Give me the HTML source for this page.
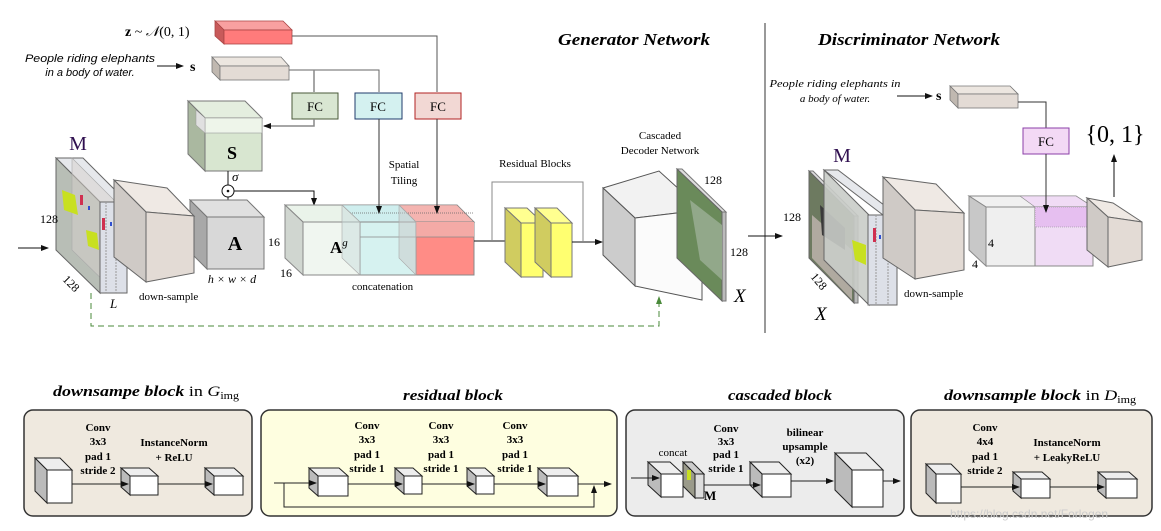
<!DOCTYPE html>
<html><head><meta charset="utf-8"><style>
html,body{margin:0;padding:0;background:#fff;}
svg{display:block;font-family:"Liberation Serif",serif;}
.b{font-weight:bold}
</style></head><body>
<svg width="1161" height="531" viewBox="0 0 1161 531" xmlns="http://www.w3.org/2000/svg">
<defs>
<marker id="ar" markerWidth="8" markerHeight="8" refX="7" refY="4" orient="auto" markerUnits="userSpaceOnUse"><path d="M0,1 L8,4 L0,7 z" fill="#111"/></marker>
<marker id="ag" markerWidth="8" markerHeight="8" refX="7" refY="4" orient="auto" markerUnits="userSpaceOnUse"><path d="M0,1 L8,4 L0,7 z" fill="#4a8a3a"/></marker>
</defs>

<text x="558" y="45" font-size="17" font-style="italic" class="b" textLength="152" lengthAdjust="spacingAndGlyphs">Generator Network</text>
<text x="818" y="45" font-size="17" font-style="italic" class="b" textLength="182" lengthAdjust="spacingAndGlyphs">Discriminator Network</text>
<line x1="765" y1="23" x2="765" y2="333" stroke="#333" stroke-width="1"/>

<text x="125" y="36" font-size="14"><tspan class="b">z</tspan> ~ <tspan font-style="italic">𝒩</tspan>(0, 1)</text>
<polygon points="215,21 283,21 292,30 224,30" fill="#f8a0a0" stroke="#a44" stroke-width="0.8"/>
<polygon points="215,21 224,30 224,44 215,36" fill="#c85a5a" stroke="#a44" stroke-width="0.8"/>
<rect x="224" y="30" width="68" height="14" fill="#ff7b7b" stroke="#a44" stroke-width="0.8"/>
<polyline points="292,36 437,36 437,92" fill="none" stroke="#555" stroke-width="1"/>

<text x="90" y="62" font-family="Liberation Sans,sans-serif" font-size="11" font-style="italic" text-anchor="middle" textLength="130" lengthAdjust="spacingAndGlyphs">People riding elephants</text>
<text x="90" y="76" font-family="Liberation Sans,sans-serif" font-size="11" font-style="italic" text-anchor="middle">in a body of water.</text>
<line x1="157" y1="66" x2="183" y2="66" stroke="#111" marker-end="url(#ar)"/>
<text x="190" y="71" font-size="14" class="b">s</text>
<polygon points="212,57 281,57 289,66 220,66" fill="#ece6e0" stroke="#777" stroke-width="0.8"/>
<polygon points="212,57 220,66 220,80 212,72" fill="#c0b8b0" stroke="#777" stroke-width="0.8"/>
<rect x="220" y="66" width="69" height="14" fill="#e3dbd5" stroke="#777" stroke-width="0.8"/>
<polyline points="289,70 379,70 379,92" fill="none" stroke="#666" stroke-width="1"/>
<line x1="314" y1="70" x2="314" y2="92" stroke="#888" stroke-width="1.5"/>

<rect x="292" y="93" width="46" height="26" fill="#d9e6d2" stroke="#4a5a3a"/>
<text x="315" y="111" font-size="13" text-anchor="middle">FC</text>
<rect x="355" y="93" width="47" height="26" fill="#d4f1f0" stroke="#1f3b6b"/>
<text x="378" y="111" font-size="13" text-anchor="middle">FC</text>
<rect x="415" y="93" width="46" height="26" fill="#f2d8d4" stroke="#b22222"/>
<text x="438" y="111" font-size="13" text-anchor="middle">FC</text>
<polyline points="314,119 314,126 264,126" fill="none" stroke="#888" stroke-width="1.5" marker-end="url(#ar)"/>

<polygon points="188,101 245,101 262,118 205,118" fill="#e4eedf" stroke="#777"/>
<polygon points="188,101 205,118 205,171 188,154" fill="#aab8a0" stroke="#777"/>
<rect x="205" y="118" width="57" height="53" fill="#d8e6d0" stroke="#777"/>
<rect x="205" y="118" width="57" height="15" fill="#eef5ea" stroke="#999" stroke-width="0.6"/>
<polygon points="196,110 205,118 205,133 196,125" fill="#e0e0e0" stroke="#999" stroke-width="0.5"/>
<text x="232" y="159" font-size="18" text-anchor="middle" class="b">S</text>
<text x="232" y="181" font-size="13" font-style="italic">σ</text>
<line x1="228" y1="171" x2="228" y2="185" stroke="#111"/>
<circle cx="228" cy="191" r="6" fill="#fff" stroke="#111"/>
<circle cx="228" cy="191" r="1.3" fill="#111"/>
<line x1="228" y1="197" x2="228" y2="217" stroke="#111"/>
<polyline points="234,191 314,191 314,205" fill="none" stroke="#111" marker-end="url(#ar)"/>

<polygon points="190,200 247,200 264,217 207,217" fill="#e0e0e0" stroke="#777"/>
<polygon points="190,200 207,217 207,269 190,252" fill="#a8a8a8" stroke="#777"/>
<rect x="207" y="217" width="57" height="52" fill="#d8d8d8" stroke="#777"/>
<text x="235" y="250" font-size="20" text-anchor="middle" class="b">A</text>
<text x="232" y="283" font-size="12" font-style="italic" text-anchor="middle">h × w × d</text>

<line x1="18" y1="248" x2="48" y2="248" stroke="#111" marker-end="url(#ar)"/>

<text x="78" y="150" font-size="20" text-anchor="middle" fill="#301050">M</text>
<polygon points="56,158 83,158 127,202 100,202" fill="#e6e8ec" stroke="#666"/>
<polygon points="56,158 100,202 100,293 56,250" fill="#b8beb6" stroke="#666"/>
<polygon points="72,158 116,202 116,293 72,250" fill="#d6cfcc" fill-opacity="0.5" stroke="#aaa" stroke-width="0.6"/>
<polygon points="62,190 75,195 78,215 64,210" fill="#c8e020"/>
<polygon points="86,230 97,233 99,250 88,246" fill="#c8e020"/>
<rect x="80" y="195" width="3" height="10" fill="#d03050"/>
<rect x="88" y="206" width="2" height="4" fill="#3050d0"/>
<rect x="100" y="202" width="27" height="91" fill="#dde0e8" stroke="#666"/>
<line x1="106" y1="202" x2="106" y2="293" stroke="#999" stroke-dasharray="2,1"/>
<line x1="116" y1="202" x2="116" y2="293" stroke="#999" stroke-dasharray="2,1"/>
<rect x="102" y="218" width="3" height="12" fill="#d03050"/>
<rect x="110" y="222" width="2" height="4" fill="#3050d0"/>
<text x="40" y="223" font-size="12">128</text>
<text x="62" y="280" font-size="12" transform="rotate(45 62 280)">128</text>
<text x="110" y="308" font-size="13" font-style="italic">L</text>

<polygon points="114,180 167,188 194,216 146,212" fill="#efe9e4" stroke="#666"/>
<polygon points="114,180 146,212 146,282 114,257" fill="#cfcac6" stroke="#666"/>
<polygon points="146,212 194,216 194,273 146,282" fill="#e3dbd5" stroke="#666"/>
<text x="139" y="300" font-size="11">down-sample</text>

<polygon points="285,205 457,205 474,222 303,222" fill="#eaf3ea" stroke="#888"/>
<polygon points="342,205 399,205 416,222 360,222" fill="#cfeeee" stroke="#888" stroke-width="0.6"/>
<polygon points="399,205 457,205 474,222 416,222" fill="#f4b4b0" stroke="#888" stroke-width="0.6"/>
<polygon points="285,205 303,222 303,275 285,258" fill="#d0d6d0" stroke="#888"/>
<rect x="303" y="222" width="57" height="53" fill="#f0f6f0" stroke="#888"/>
<rect x="360" y="222" width="56" height="53" fill="#d6f2f0" stroke="#888"/>
<rect x="416" y="222" width="58" height="53" fill="#ff8c86" stroke="#888"/>
<rect x="416" y="222" width="58" height="15" fill="#f4aaa6"/>
<line x1="350" y1="213" x2="474" y2="213" stroke="#666" stroke-dasharray="1,1" stroke-width="0.7"/>
<line x1="360" y1="237" x2="474" y2="237" stroke="#888" stroke-width="0.7"/>
<polygon points="342,205 360,222 360,275 342,258" fill="#c8dcdc" fill-opacity="0.5" stroke="#aaa" stroke-width="0.6"/>
<polygon points="399,205 416,222 416,275 399,258" fill="#c8c8c8" fill-opacity="0.5" stroke="#aaa" stroke-width="0.6"/>
<line x1="379" y1="119" x2="379" y2="213" stroke="#333" marker-end="url(#ar)"/>
<line x1="437" y1="119" x2="437" y2="213" stroke="#333" marker-end="url(#ar)"/>
<text x="330" y="253" font-size="17" class="b">A<tspan font-size="11" font-style="italic" font-weight="normal" dy="-7">g</tspan></text>
<text x="268" y="246" font-size="12">16</text>
<text x="280" y="277" font-size="12">16</text>
<text x="352" y="290" font-size="11">concatenation</text>
<text x="404" y="168" font-size="11" text-anchor="middle">Spatial</text>
<text x="404" y="184" font-size="11" text-anchor="middle">Tiling</text>

<text x="535" y="167" font-size="11" text-anchor="middle">Residual Blocks</text>
<line x1="474" y1="241" x2="515" y2="241" stroke="#111" marker-end="url(#ar)"/>
<polyline points="492,241 492,182 583,182 583,241" fill="none" stroke="#888"/>
<polygon points="505,208 527,208 543,223 521,223" fill="#ffff90" stroke="#777"/>
<polygon points="505,208 521,223 521,277 505,262" fill="#d0cc60" stroke="#777"/>
<rect x="521" y="223" width="22" height="54" fill="#ffff70" stroke="#777"/>
<polygon points="535,208 557,208 572,223 551,223" fill="#ffff90" stroke="#777"/>
<polygon points="535,208 551,223 551,277 535,262" fill="#d0cc60" stroke="#777"/>
<rect x="551" y="223" width="21" height="54" fill="#ffff70" stroke="#777"/>
<line x1="572" y1="242" x2="602" y2="242" stroke="#111" marker-end="url(#ar)"/>

<polygon points="603,188 659,171 702,210 635,218" fill="#f2f2f2" stroke="#555"/>
<polygon points="603,188 635,218 635,286 603,255" fill="#cccccc" stroke="#555"/>
<polygon points="635,218 702,210 702,300 635,286" fill="#fbfbfb" stroke="#555"/>
<text x="660" y="139" font-size="11" text-anchor="middle">Cascaded</text>
<text x="660" y="154" font-size="11" text-anchor="middle">Decoder Network</text>
<polygon points="677,169 682,169 726,212 722,212" fill="#ddd" stroke="#777"/>
<polygon points="722,212 726,212 726,301 722,301" fill="#bbb" stroke="#777"/>
<polygon points="677,169 722,212 722,301 677,258" fill="#6a8a5a" stroke="#666"/>
<polygon points="690,200 722,225 722,280 700,260" fill="#92a88a"/>
<text x="704" y="184" font-size="12">128</text>
<text x="730" y="256" font-size="12">128</text>
<text x="734" y="302" font-size="19" font-style="italic">X</text>
<polyline points="91,293 91,326 659,326 659,297" fill="none" stroke="#4a8a3a" stroke-dasharray="6,4" marker-end="url(#ag)"/>
<line x1="748" y1="236" x2="782" y2="236" stroke="#111" marker-end="url(#ar)"/>

<text x="835" y="87" font-size="11" font-style="italic" text-anchor="middle" textLength="131" lengthAdjust="spacingAndGlyphs">People riding elephants in</text>
<text x="835" y="102" font-size="11" font-style="italic" text-anchor="middle">a body of water.</text>
<line x1="897" y1="96" x2="932" y2="96" stroke="#111" marker-end="url(#ar)"/>
<text x="936" y="100" font-size="14" class="b">s</text>
<polygon points="950,86 1010,86 1018,94 958,94" fill="#ece6e0" stroke="#777" stroke-width="0.8"/>
<polygon points="950,86 958,94 958,108 950,100" fill="#c0b8b0" stroke="#777" stroke-width="0.8"/>
<rect x="958" y="94" width="60" height="14" fill="#e3dbd5" stroke="#777" stroke-width="0.8"/>
<polyline points="1018,102 1046,102 1046,128" fill="none" stroke="#333"/>
<rect x="1023" y="128" width="46" height="26" fill="#f3d9f5" stroke="#8b3fa8"/>
<text x="1046" y="146" font-size="13" text-anchor="middle">FC</text>
<text x="1115" y="142" font-size="24" text-anchor="middle">{0, 1}</text>
<line x1="1114" y1="197" x2="1114" y2="155" stroke="#111" marker-end="url(#ar)"/>

<polygon points="809,171 813,171 858,216 854,216" fill="#ddd" stroke="#777"/>
<polygon points="854,216 858,216 858,303 854,303" fill="#bbb" stroke="#777"/>
<polygon points="809,171 854,216 854,303 809,258" fill="#6d7a60" stroke="#666"/>
<polygon points="812,215 852,250 852,300 812,258" fill="#b0aaa0"/>
<polygon points="820,205 845,228 845,250 822,235" fill="#3a3a3a"/>
<polygon points="824,170 838,170 897,215 883,215" fill="#e6e8ec" stroke="#666"/>
<polygon points="824,170 869,215 869,305 824,260" fill="#c9ccc8" fill-opacity="0.9" stroke="#666"/>
<rect x="868" y="215" width="29" height="90" fill="#dde0e8" stroke="#666"/>
<line x1="876" y1="215" x2="876" y2="305" stroke="#999" stroke-dasharray="2,1"/>
<line x1="888" y1="215" x2="888" y2="305" stroke="#999" stroke-dasharray="2,1"/>
<polygon points="852,240 866,245 866,265 855,260" fill="#c8e020"/>
<rect x="873" y="228" width="3" height="14" fill="#d03050"/>
<rect x="879" y="235" width="2" height="4" fill="#3050d0"/>
<text x="842" y="162" font-size="20" text-anchor="middle" fill="#301050">M</text>
<text x="783" y="221" font-size="12">128</text>
<text x="810" y="277" font-size="12" transform="rotate(50 810 277)">128</text>
<text x="815" y="320" font-size="19" font-style="italic">X</text>
<polygon points="883,177 936,184 964,213 915,210" fill="#efe9e4" stroke="#666"/>
<polygon points="883,177 915,210 915,279 883,258" fill="#cfcac6" stroke="#666"/>
<polygon points="915,210 964,213 964,270 915,279" fill="#e3dbd5" stroke="#666"/>
<text x="904" y="297" font-size="11">down-sample</text>
<polygon points="969,196 1076,196 1093,207 986,207" fill="#f0f0f0" stroke="#888"/>
<polygon points="1020,196 1076,196 1093,207 1035,207" fill="#f0dcf5" stroke="#888" stroke-width="0.6"/>
<polygon points="969,196 986,207 986,266 969,250" fill="#c8c8c8" stroke="#888"/>
<rect x="986" y="207" width="49" height="59" fill="#efefef" stroke="#888"/>
<rect x="1035" y="207" width="58" height="59" fill="#f0dcf5" stroke="#888"/>
<rect x="1035" y="207" width="58" height="20" fill="#e6bff0" stroke="#888" stroke-width="0.6" stroke-dasharray="1,1"/>
<line x1="1046" y1="154" x2="1046" y2="212" stroke="#333" marker-end="url(#ar)"/>
<text x="988" y="247" font-size="12">4</text>
<text x="972" y="268" font-size="12">4</text>
<polygon points="1087,198 1113,203 1142,222 1108,217" fill="#efe9e4" stroke="#666"/>
<polygon points="1087,198 1108,217 1108,267 1087,250" fill="#cfcac6" stroke="#666"/>
<polygon points="1108,217 1142,222 1142,260 1108,267" fill="#e3dbd5" stroke="#666"/>

<text x="53" y="396" font-size="15" textLength="186" lengthAdjust="spacingAndGlyphs"><tspan font-style="italic" class="b">downsampe block</tspan> in <tspan font-style="italic">G</tspan><tspan font-size="10" dy="3">img</tspan></text>
<text x="453" y="400" font-size="15" text-anchor="middle" font-style="italic" class="b" textLength="100" lengthAdjust="spacingAndGlyphs">residual block</text>
<text x="780" y="400" font-size="15" text-anchor="middle" font-style="italic" class="b" textLength="104" lengthAdjust="spacingAndGlyphs">cascaded block</text>
<text x="944" y="400" font-size="15" textLength="192" lengthAdjust="spacingAndGlyphs"><tspan font-style="italic" class="b">downsample block</tspan> in <tspan font-style="italic">D</tspan><tspan font-size="10" dy="3">img</tspan></text>

<rect x="24" y="410" width="228" height="106" rx="9" fill="#efe9df" stroke="#333" stroke-width="1.5"/>
<rect x="261" y="410" width="356" height="106" rx="9" fill="#fefee0" stroke="#333" stroke-width="1.5"/>
<rect x="626" y="410" width="278" height="106" rx="9" fill="#ececec" stroke="#333" stroke-width="1.5"/>
<rect x="911" y="410" width="241" height="106" rx="9" fill="#efe9df" stroke="#333" stroke-width="1.5"/>

<g font-size="11" class="b" text-anchor="middle">
<text x="98" y="431">Conv</text><text x="98" y="445">3x3</text><text x="98" y="460">pad 1</text><text x="98" y="474">stride 2</text>
<text x="174" y="446">InstanceNorm</text><text x="174" y="461">+ ReLU</text>
<text x="367" y="429">Conv</text><text x="367" y="443">3x3</text><text x="367" y="458">pad 1</text><text x="367" y="472">stride 1</text>
<text x="441" y="429">Conv</text><text x="441" y="443">3x3</text><text x="441" y="458">pad 1</text><text x="441" y="472">stride 1</text>
<text x="515" y="429">Conv</text><text x="515" y="443">3x3</text><text x="515" y="458">pad 1</text><text x="515" y="472">stride 1</text>
<text x="726" y="432">Conv</text><text x="726" y="445">3x3</text><text x="726" y="458">pad 1</text><text x="726" y="472">stride 1</text>
<text x="805" y="436">bilinear</text><text x="805" y="450">upsample</text><text x="805" y="464">(x2)</text>
<text x="985" y="431">Conv</text><text x="985" y="445">4x4</text><text x="985" y="460">pad 1</text><text x="985" y="474">stride 2</text>
<text x="1067" y="446">InstanceNorm</text><text x="1067" y="461">+ LeakyReLU</text>
</g>
<text x="673" y="456" font-size="11" text-anchor="middle">concat</text>
<text x="704" y="500" font-size="13" class="b">M</text>

<g stroke="#222" stroke-width="1">
<polygon points="35,458 60,458 72,470 47,470" fill="#eee"/><polygon points="35,458 47,470 47,503 35,491" fill="#bbb"/><rect x="47" y="470" width="25" height="33" fill="#fff"/>
<polygon points="121,468 149,468 158,476 130,476" fill="#eee"/><polygon points="121,468 130,476 130,495 121,487" fill="#bbb"/><rect x="130" y="476" width="28" height="19" fill="#fff"/>
<polygon points="205,468 234,468 243,476 214,476" fill="#eee"/><polygon points="205,468 214,476 214,495 205,487" fill="#bbb"/><rect x="214" y="476" width="29" height="19" fill="#fff"/>
<polygon points="309,468 339,468 348,476 318,476" fill="#eee"/><polygon points="309,468 318,476 318,496 309,488" fill="#bbb"/><rect x="318" y="476" width="30" height="20" fill="#fff"/>
<polygon points="395,468 413,468 422,476 404,476" fill="#eee"/><polygon points="395,468 404,476 404,494 395,486" fill="#bbb"/><rect x="404" y="476" width="18" height="18" fill="#fff"/>
<polygon points="467,468 485,468 494,476 476,476" fill="#eee"/><polygon points="467,468 476,476 476,494 467,486" fill="#bbb"/><rect x="476" y="476" width="18" height="18" fill="#fff"/>
<polygon points="538,468 569,468 578,476 547,476" fill="#eee"/><polygon points="538,468 547,476 547,496 538,488" fill="#bbb"/><rect x="547" y="476" width="31" height="20" fill="#fff"/>
<polygon points="648,462 670,462 683,474 661,474" fill="#eee"/><polygon points="648,462 661,474 661,497 648,485" fill="#bbb"/><rect x="661" y="474" width="22" height="23" fill="#fff"/>
<polygon points="683,462 692,462 704,474 695,474" fill="#ccc"/><polygon points="683,462 695,474 695,498 683,486" fill="#9a9a8a"/><rect x="695" y="474" width="9" height="24" fill="#ddd"/>
<polygon points="750,462 779,462 791,474 762,474" fill="#eee"/><polygon points="750,462 762,474 762,497 750,485" fill="#bbb"/><rect x="762" y="474" width="29" height="23" fill="#fff"/>
<polygon points="835,453 866,453 883,470 852,470" fill="#eee"/><polygon points="835,453 852,470 852,507 835,490" fill="#bbb"/><rect x="852" y="470" width="31" height="37" fill="#fff"/>
<polygon points="926,464 951,464 961,474 936,474" fill="#eee"/><polygon points="926,464 936,474 936,503 926,493" fill="#bbb"/><rect x="936" y="474" width="25" height="29" fill="#fff"/>
<polygon points="1013,472 1042,472 1050,479 1021,479" fill="#eee"/><polygon points="1013,472 1021,479 1021,498 1013,491" fill="#bbb"/><rect x="1021" y="479" width="29" height="19" fill="#fff"/>
<polygon points="1098,472 1129,472 1137,479 1106,479" fill="#eee"/><polygon points="1098,472 1106,479 1106,498 1098,491" fill="#bbb"/><rect x="1106" y="479" width="31" height="19" fill="#fff"/>
</g>
<rect x="687" y="470" width="4" height="10" fill="#c8e020"/>
<g stroke="#222" fill="none" stroke-width="1">
<line x1="72" y1="484" x2="128" y2="484" marker-end="url(#ar)"/>
<line x1="158" y1="484" x2="212" y2="484" marker-end="url(#ar)"/>
<line x1="274" y1="483" x2="316" y2="483" marker-end="url(#ar)"/>
<line x1="348" y1="484" x2="402" y2="484" marker-end="url(#ar)"/>
<line x1="422" y1="484" x2="474" y2="484" marker-end="url(#ar)"/>
<line x1="494" y1="484" x2="545" y2="484" marker-end="url(#ar)"/>
<line x1="578" y1="484" x2="611" y2="484" marker-end="url(#ar)"/>
<polyline points="284,483 284,507 594,507 594,486" marker-end="url(#ar)"/>
<line x1="631" y1="478" x2="659" y2="478" marker-end="url(#ar)"/>
<line x1="704" y1="485" x2="760" y2="485" marker-end="url(#ar)"/>
<line x1="791" y1="481" x2="833" y2="481" marker-end="url(#ar)"/>
<line x1="883" y1="481" x2="900" y2="481" marker-end="url(#ar)"/>
<line x1="961" y1="487" x2="1019" y2="487" marker-end="url(#ar)"/>
<line x1="1050" y1="487" x2="1104" y2="487" marker-end="url(#ar)"/>
</g>
<text x="950" y="518" font-size="12" font-family="Liberation Sans,sans-serif" fill="#ccc">https://blog.csdn.net/Forlogen</text>
</svg>
</body></html>
